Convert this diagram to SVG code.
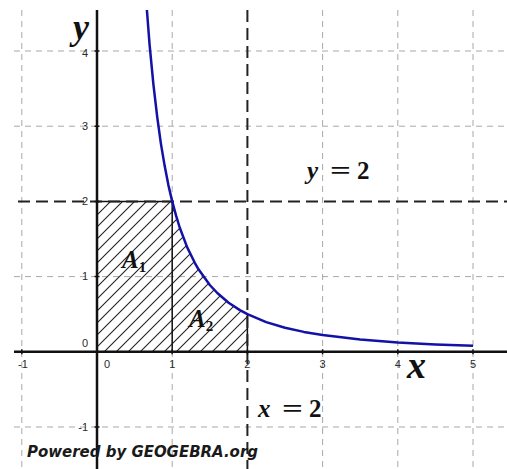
<svg xmlns="http://www.w3.org/2000/svg" width="507" height="469" viewBox="0 0 507 469">
<style>
.grid{stroke:#a8a8a8;stroke-width:1;stroke-dasharray:6,5;fill:none}
.dash{stroke:#222;stroke-width:2;stroke-dasharray:12,6;fill:none}
.axis{stroke:#111;stroke-width:2.5;fill:none}
.tick{stroke:#111;stroke-width:1.5}
.tl{font-family:"Liberation Sans",Arial,sans-serif;font-size:11px;fill:#2a2a2a}
.math{font-family:"Liberation Serif","Times New Roman",serif;fill:#111}
</style>
<defs>
<pattern id="hatch" patternUnits="userSpaceOnUse" width="12" height="12">
<path d="M-3,3 L3,-3 M0,12 L12,0 M9,15 L15,9" stroke="#222" stroke-width="1.1"/>
</pattern>
</defs>
<rect width="507" height="469" fill="#fff"/>
<g id="grid">
<path class="grid" d="M21.8,10V469 M172.2,10V469 M322.6,10V469 M397.8,10V469 M473,10V469"/>
<path class="grid" d="M14,51H507 M14,126.2H507 M14,276.6H507 M14,427H507"/>
</g>
<g id="hatched-area">
<path d="M97,351.8 L97,201.4 L172.2,201.4 L176,215.4 L179.7,227.5 L187.2,247.4 L194.8,262.8 L198.5,269.3 L209.8,285 L217.3,293 L228.6,302.7 L239.9,310.1 L247.4,314.2 L247.4,351.8 Z" fill="url(#hatch)" stroke="none"/>
<path d="M97,201.4 H172.2 M172.2,201.4 V351.8 M247.4,314.2 V351.8" stroke="#111" stroke-width="1.5" fill="none"/>
</g>
<g id="lines">
<path class="dash" d="M18,201.4H507"/>
<path class="dash" d="M247.4,10V469"/>
</g>
<g id="axes">
<path class="axis" d="M14,351.8H507 M97,10V469"/>
<path class="tick" d="M21.8,349.3v5 M172.2,349.3v5 M247.4,349.3v5 M322.6,349.3v5 M397.8,349.3v5 M473,349.3v5 M94.5,51h5 M94.5,126.2h5 M94.5,201.4h5 M94.5,276.6h5 M94.5,427h5"/>
</g>
<g id="tick-labels">
<text class="tl" x="23" y="368" text-anchor="middle">-1</text>
<text class="tl" x="107" y="368" text-anchor="middle">0</text>
<text class="tl" x="172.2" y="368" text-anchor="middle">1</text>
<text class="tl" x="247.4" y="368" text-anchor="middle">2</text>
<text class="tl" x="322.6" y="368" text-anchor="middle">3</text>
<text class="tl" x="397.8" y="368" text-anchor="middle">4</text>
<text class="tl" x="473" y="368" text-anchor="middle">5</text>
<text class="tl" x="88" y="57" text-anchor="end">4</text>
<text class="tl" x="88" y="130" text-anchor="end">3</text>
<text class="tl" x="88" y="205" text-anchor="end">2</text>
<text class="tl" x="88" y="280" text-anchor="end">1</text>
<text class="tl" x="88" y="347" text-anchor="end">0</text>
<text class="tl" x="88" y="431" text-anchor="end">-1</text>
</g>
<g id="curve">
<polyline points="146.9,10 149.6,44.9 153.4,84.4 157.2,116.8 160.9,143.6 164.7,166.1 168.4,185.1 172.2,201.4 176,215.4 179.7,227.5 187.2,247.4 194.8,262.8 198.5,269.3 209.8,285 217.3,293 228.6,302.7 239.9,310.1 247.4,314.2 266.2,322.1 285,327.7 303.8,331.9 322.6,335.1 360.2,339.5 397.8,342.4 435.4,344.4 473,345.8" fill="none" stroke="#1212a6" stroke-width="2.5" stroke-linejoin="round"/>
</g>
<g id="axis-labels">
<text class="math" x="73" y="39" font-size="36" font-style="italic" font-weight="bold">y</text>
<text class="math" x="407" y="378" font-size="38" font-style="italic" font-weight="bold">x</text>
</g>
<g id="label-y2">
<text class="math" y="179" font-size="25" font-weight="bold"><tspan x="307" font-style="italic">y</tspan><tspan x="330" textLength="21" lengthAdjust="spacingAndGlyphs">=</tspan><tspan x="357">2</tspan></text>
</g>
<g id="label-x2">
<text class="math" y="417" font-size="25" font-weight="bold"><tspan x="258" font-style="italic">x</tspan><tspan x="282" textLength="21" lengthAdjust="spacingAndGlyphs">=</tspan><tspan x="309">2</tspan></text>
</g>
<g id="label-A1">
<text class="math" x="122" y="268" font-size="25" font-style="italic" font-weight="bold">A<tspan font-size="15" font-style="normal" dy="4">1</tspan></text>
</g>
<g id="label-A2">
<text class="math" x="189" y="327" font-size="25" font-style="italic" font-weight="bold">A<tspan font-size="15" font-style="normal" dy="4">2</tspan></text>
</g>
<g id="credit">
<text x="27" y="457" font-family="'DejaVu Sans',Verdana,sans-serif" font-size="15" font-weight="bold" font-style="italic" fill="#1a1a1a" textLength="231" lengthAdjust="spacingAndGlyphs">Powered by GEOGEBRA.org</text>
</g>
</svg>
